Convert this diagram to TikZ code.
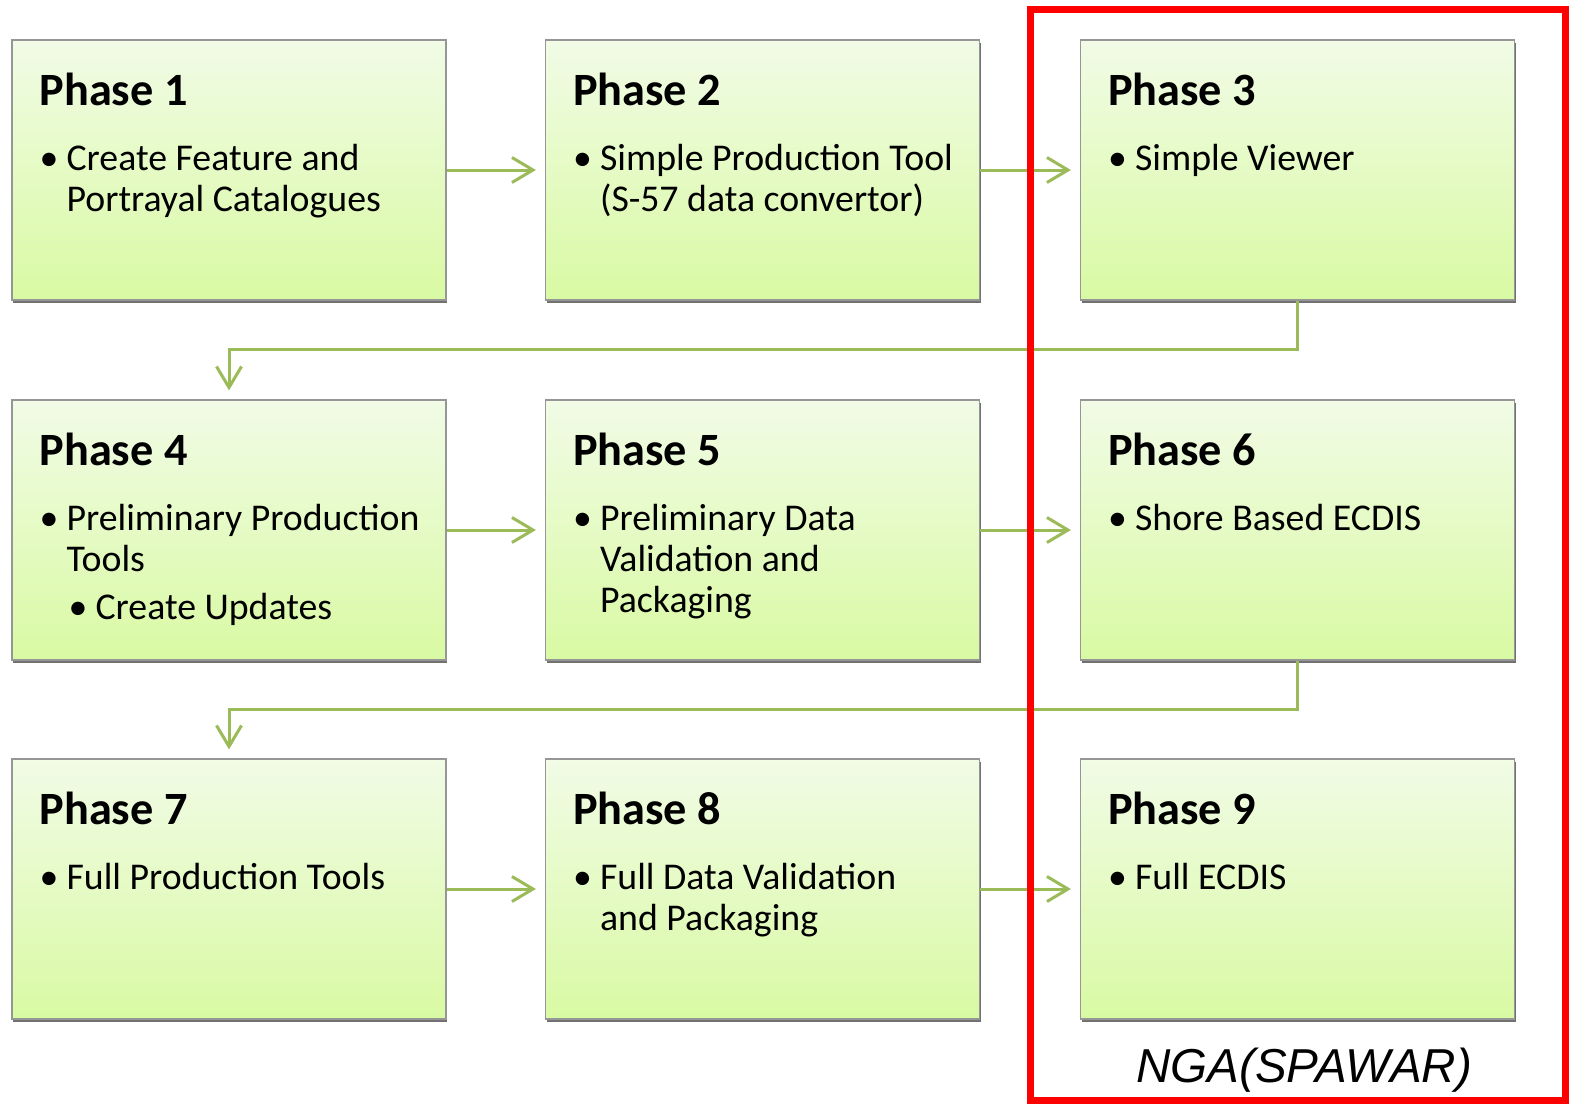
\documentclass[tikz,border=0pt]{standalone}
\usepackage{fontspec}
\setmainfont{Carlito}
\newfontfamily\arialfont{Liberation Sans}
\usetikzlibrary{arrows.meta,shadows}
\definecolor{arrowgreen}{RGB}{155,187,89}
\definecolor{boxtop}{RGB}{241,251,230}
\definecolor{boxbot}{RGB}{217,250,163}
\definecolor{boxline}{RGB}{150,150,150}
\definecolor{nred}{RGB}{255,0,0}
\begin{document}
\begin{tikzpicture}[x=1pt,y=-1pt,
  pbox/.style={draw=boxline, line width=1.2pt, top color=boxtop, bottom color=boxbot,
    minimum width=434pt, minimum height=260pt, inner sep=0pt,
    drop shadow={shadow xshift=1pt, shadow yshift=-3pt, opacity=0.65, fill=black!85}},
  ttl/.style={anchor=base west, inner sep=0pt, font=\fontsize{46.3}{50}\selectfont\bfseries},
  txt/.style={anchor=base west, inner sep=0pt, font=\fontsize{37.8}{41}\selectfont},
  flow/.style={draw=arrowgreen, line width=3pt, -{Straight Barb[length=21pt,width=25pt]}, shorten >=9pt}]
\useasboundingbox (0,0) rectangle (1570,1105);
\fill[white] (0,0) rectangle (1570,1105);

% boxes
\node[pbox] (p1) at (229,170) {};
\node[pbox] (p2) at (762.5,170) {};
\node[pbox] (p3) at (1297.5,170) {};
\node[pbox] (p4) at (229,530) {};
\node[pbox] (p5) at (762.5,530) {};
\node[pbox] (p6) at (1297.5,530) {};
\node[pbox] (p7) at (229,889) {};
\node[pbox] (p8) at (762.5,889) {};
\node[pbox] (p9) at (1297.5,889) {};

% Phase 1
\node[ttl] (t1) at ([shift={(28,66)}]p1.north west) {Phase 1};
\node[txt] (b1) at ([shift={(28,131)}]p1.north west) {\textbullet};
\node[txt] (l1a) at ([shift={(55,131)}]p1.north west) {Create Feature and};
\node[txt] (l1b) at ([shift={(55,172)}]p1.north west) {Portrayal Catalogues};
% Phase 2
\node[ttl] (t2) at ([shift={(28,66)}]p2.north west) {Phase 2};
\node[txt] (b2) at ([shift={(28,131)}]p2.north west) {\textbullet};
\node[txt] (l2a) at ([shift={(55,131)}]p2.north west) {Simple Production Tool};
\node[txt] (l2b) at ([shift={(55,172)}]p2.north west) {(S-57 data convertor)};
% Phase 3
\node[ttl] (t3) at ([shift={(28,66)}]p3.north west) {Phase 3};
\node[txt] (b3) at ([shift={(28,131)}]p3.north west) {\textbullet};
\node[txt] (l3a) at ([shift={(55,131)}]p3.north west) {Simple Viewer};
% Phase 4
\node[ttl] (t4) at ([shift={(28,66)}]p4.north west) {Phase 4};
\node[txt] (b4) at ([shift={(28,131)}]p4.north west) {\textbullet};
\node[txt] (l4a) at ([shift={(55,131)}]p4.north west) {Preliminary Production};
\node[txt] (l4b) at ([shift={(55,172)}]p4.north west) {Tools};
\node[txt] (b4s) at ([shift={(57,220)}]p4.north west) {\textbullet};
\node[txt] (l4c) at ([shift={(84,220)}]p4.north west) {Create Updates};
% Phase 5
\node[ttl] (t5) at ([shift={(28,66)}]p5.north west) {Phase 5};
\node[txt] (b5) at ([shift={(28,131)}]p5.north west) {\textbullet};
\node[txt] (l5a) at ([shift={(55,131)}]p5.north west) {Preliminary Data};
\node[txt] (l5b) at ([shift={(55,172)}]p5.north west) {Validation and};
\node[txt] (l5c) at ([shift={(55,213)}]p5.north west) {Packaging};
% Phase 6
\node[ttl] (t6) at ([shift={(28,66)}]p6.north west) {Phase 6};
\node[txt] (b6) at ([shift={(28,131)}]p6.north west) {\textbullet};
\node[txt] (l6a) at ([shift={(55,131)}]p6.north west) {Shore Based ECDIS};
% Phase 7
\node[ttl] (t7) at ([shift={(28,66)}]p7.north west) {Phase 7};
\node[txt] (b7) at ([shift={(28,131)}]p7.north west) {\textbullet};
\node[txt] (l7a) at ([shift={(55,131)}]p7.north west) {Full Production Tools};
% Phase 8
\node[ttl] (t8) at ([shift={(28,66)}]p8.north west) {Phase 8};
\node[txt] (b8) at ([shift={(28,131)}]p8.north west) {\textbullet};
\node[txt] (l8a) at ([shift={(55,131)}]p8.north west) {Full Data Validation};
\node[txt] (l8b) at ([shift={(55,172)}]p8.north west) {and Packaging};
% Phase 9
\node[ttl] (t9) at ([shift={(28,66)}]p9.north west) {Phase 9};
\node[txt] (b9) at ([shift={(28,131)}]p9.north west) {\textbullet};
\node[txt] (l9a) at ([shift={(55,131)}]p9.north west) {Full ECDIS};

% connectors
\draw[flow] (p1.east) -- (p2.west);
\draw[flow] (p2.east) -- (p3.west);
\draw[flow] (p4.east) -- (p5.west);
\draw[flow] (p5.east) -- (p6.west);
\draw[flow] (p7.east) -- (p8.west);
\draw[flow] (p8.east) -- (p9.west);
\draw[flow] (p3.south) -- ++(0,49) -| (p4.north);
\draw[flow] (p6.south) -- ++(0,49) -| (p7.north);

% highlight frame and label
\draw[nred, line width=7pt] (1030,10) rectangle (1565,1100);
\node[anchor=base, inner sep=0pt, font=\arialfont\itshape\fontsize{47.6}{50}\selectfont] (nga) at (1304,1082) {NGA(SPAWAR)};
\end{tikzpicture}
\end{document}
